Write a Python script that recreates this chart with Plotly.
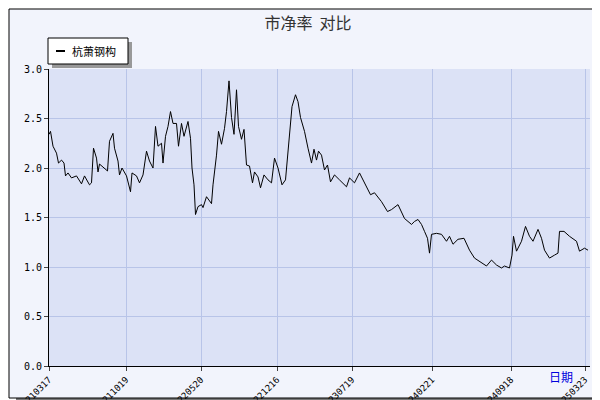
import plotly.graph_objects as go

# trading-day index and price/book ratio
day = [0, 3, 8, 15, 19, 25, 30, 33, 38, 45, 55, 65, 71, 81, 85, 89, 95, 98, 101, 111, 117,
       121, 128, 131, 138, 141, 146, 155, 161, 163, 166, 175, 181, 188, 195, 201, 208, 213,
       218, 225, 228, 233, 238, 243, 248, 255, 259, 265, 270, 278, 283, 286, 290, 293, 298,
       305, 308, 315, 325, 328, 335, 339, 345, 351,
       355, 360, 365, 370, 375, 379, 385, 390, 395, 401, 407, 411, 418, 423, 430, 438, 445,
       451, 458, 466, 473, 477, 481, 486, 493, 498, 503, 511, 518, 525, 530, 535, 539, 545,
       551, 557, 563, 571, 581, 595, 601, 611, 621, 631, 643, 651, 665, 677,
       685, 698, 711, 725, 731, 738, 745, 751, 757, 761, 765, 775, 785, 795, 801, 808, 818,
       830, 841, 851, 865, 875, 885, 895, 905, 911, 921, 926, 929, 935, 945, 953, 961, 968,
       978, 985, 991, 1001, 1011, 1018, 1021, 1030, 1041, 1055, 1061, 1071, 1078]
pb = [2.34, 2.37, 2.22, 2.15, 2.05, 2.08, 2.05, 1.92, 1.95, 1.90, 1.92, 1.84, 1.92, 1.83,
      1.85, 2.20, 2.10, 1.96, 2.04, 2.00, 1.97, 2.27, 2.35, 2.20, 2.07, 1.93, 2.00, 1.92,
      1.81, 1.76, 1.95, 1.92, 1.85, 1.93, 2.17, 2.07, 2.00, 2.42, 2.22, 2.25, 2.05, 2.32,
      2.42, 2.57, 2.45, 2.45, 2.22, 2.45, 2.32, 2.47, 2.30, 2.00, 1.83, 1.53, 1.61, 1.63,
      1.60, 1.71, 1.64, 1.83, 2.13, 2.37, 2.24, 2.40,
      2.57, 2.88, 2.51, 2.34, 2.79, 2.42, 2.29, 2.39, 2.03, 2.02, 1.85, 1.96, 1.91, 1.80,
      1.93, 1.88, 1.85, 2.10, 2.00, 1.83, 1.88, 2.13, 2.34, 2.62, 2.74, 2.67, 2.51, 2.37,
      2.20, 2.05, 2.19, 2.08, 2.17, 2.13, 1.98, 2.03, 1.86, 1.93, 1.88, 1.81, 1.90, 1.85,
      1.95, 1.85, 1.73, 1.75, 1.66, 1.56,
      1.58, 1.63, 1.49, 1.43, 1.46, 1.48, 1.43, 1.36, 1.29, 1.14, 1.33, 1.34, 1.33, 1.26,
      1.31, 1.23, 1.28, 1.29, 1.17, 1.09, 1.04, 1.01, 1.07, 1.02, 0.99, 1.01, 0.99, 1.12,
      1.31, 1.16, 1.26, 1.41, 1.31, 1.26, 1.38, 1.29, 1.17, 1.09, 1.12, 1.14, 1.36, 1.36,
      1.31, 1.26, 1.16, 1.19, 1.17]

tick_pos = [0, 154, 304, 456, 606, 766, 924, 1072]
tick_txt = ['20210317', '20211019', '20220520', '20221216', '20230719', '20240221',
            '20240918', '20250323']

fig = go.Figure()
fig.add_trace(go.Scatter(x=day, y=pb, mode='lines', name='杭萧钢构',
                         line=dict(color='black', width=1)))

def px(p):
    return (p - 41) / 541

def py(p):
    return (358 - p) / 297

shapes = [
    dict(type='rect', xref='paper', yref='paper', x0=px(8), x1=px(599), y0=py(398), y1=py(8),
         fillcolor='#777777', line=dict(width=0), layer='below'),
    dict(type='rect', xref='paper', yref='paper', x0=px(1), x1=px(592), y0=py(390), y1=py(1),
         fillcolor='#F2F4FC', line=dict(color='black', width=1), layer='below'),
    dict(type='rect', xref='paper', yref='paper', x0=0, x1=1, y0=0, y1=1,
         fillcolor='#DCE2F6', line=dict(width=0), layer='below'),
    dict(type='rect', xref='paper', yref='paper', x0=px(44), x1=px(124), y0=py(60), y1=py(34),
         fillcolor='#999999', line=dict(width=0)),
    dict(type='rect', xref='paper', yref='paper', x0=px(40), x1=px(120), y0=py(56), y1=py(30),
         fillcolor='white', line=dict(color='black', width=1)),
    dict(type='line', xref='paper', yref='paper', x0=px(48), x1=px(57), y0=py(43), y1=py(43),
         line=dict(color='black', width=2)),
]

fig.update_layout(
    width=600, height=400,
    margin=dict(l=41, r=18, t=61, b=42, autoexpand=False),
    paper_bgcolor='white', plot_bgcolor='rgba(0,0,0,0)',
    showlegend=False,
    shapes=shapes,
    font=dict(family='DejaVu Sans Mono', size=10, color='black'),
    title=dict(text='市净率  对比', x=0.5, xanchor='center', y=0.975, yanchor='top',
               font=dict(family='Noto Sans CJK SC', size=16, color='#333333')),
    annotations=[
        dict(text='杭萧钢构', xref='paper', yref='paper', x=px(62), y=py(43), xanchor='left',
             yanchor='middle', showarrow=False, font=dict(family='Noto Sans CJK SC', size=11)),
        dict(text='日期', xref='paper', yref='paper', x=px(567), y=py(379), showarrow=False,
             font=dict(family='Noto Sans CJK SC', size=12, color='#0000DD')),
    ],
    xaxis=dict(range=[0, 1082], tickvals=tick_pos, ticktext=tick_txt, tickangle=-45,
               showgrid=True, gridcolor='#B8C4E8', zeroline=False, showline=True,
               linecolor='black', ticks='outside', ticklen=4, tickfont=dict(size=9),
               automargin=False),
    yaxis=dict(range=[0, 3.0], dtick=0.5, tickformat='.1f', showgrid=True,
               gridcolor='#B8C4E8', zeroline=False, showline=True, linecolor='black',
               ticks='outside', ticklen=4, automargin=False),
)

fig.write_html('out.html')
